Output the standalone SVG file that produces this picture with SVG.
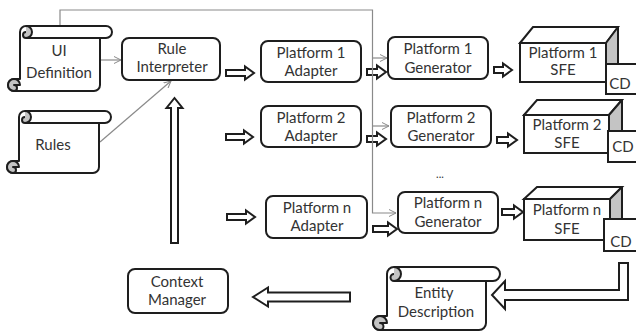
<svg xmlns="http://www.w3.org/2000/svg" width="636" height="332" viewBox="0 0 636 332">
  <defs>
    <marker id="thin-arrow" viewBox="0 0 8 8" refX="7" refY="4" markerWidth="8" markerHeight="8" markerUnits="userSpaceOnUse" orient="auto">
      <path d="M0,0.5 L7,4 L0,7.5" fill="none" stroke="#8a8a8a" stroke-width="1"/>
    </marker>
  </defs>
  <style>
    .box { fill: #fff; stroke: #1e1e1e; stroke-width: 2; }
    .scroll { fill: #fff; stroke: #1e1e1e; stroke-width: 2; stroke-linejoin: round; }
    .curl { fill: #c4c4c4; stroke: #1e1e1e; stroke-width: 2; stroke-linejoin: round; }
    .side { fill: #c4c4c4; stroke: #1e1e1e; stroke-width: 2; stroke-linejoin: round; }
    .block { fill: #fff; stroke: #1e1e1e; stroke-width: 2; stroke-linejoin: miter; }
    .thin { fill: none; stroke: #8a8a8a; stroke-width: 1.2; }
    text { font-family: Lato, "Open Sans", "Liberation Sans", sans-serif; font-size: 15px; fill: #333; text-anchor: middle; }
  </style>

  <rect width="636" height="332" fill="#fff"/>

  <!-- block arrows and thin arrows -->
  <g id="connectors">
    <polygon class="block" points="226,70 245,70 245,66.5 254,73 245,79.5 245,76 226,76"/>
    <polygon class="block" points="226,134 244,134 244,130.5 253,137 244,143.5 244,140 226,140"/>
    <polygon class="block" points="227,214 246,214 246,210.5 255,217 246,223.5 246,220 227,220"/>
    <polygon class="block" points="367,69 377,69 377,65.5 386,72 377,78.5 377,75 367,75"/>
    <polygon class="block" points="367,136 377,136 377,132.5 386,139 377,145.5 377,142 367,142"/>
    <polygon class="block" points="373,226 388,226 388,222.5 397,229 388,235.5 388,232 373,232"/>
    <polygon class="block" points="494,67 503,67 503,63.5 512,70 503,76.5 503,73 494,73"/>
    <polygon class="block" points="497,137 508,137 508,133.5 517,140 508,146.5 508,143 497,143"/>
    <polygon class="block" points="502,209 514,209 514,205.5 523,212 514,218.5 514,215 502,215"/>
    <polygon class="block" points="171,243 171,108 166.5,108 174.5,98 182.5,108 178,108 178,243"/>
    <polygon class="block" points="350,292.5 268,292.5 268,287.5 253,297 268,306.5 268,301.5 350,301.5"/>
    <polygon class="block" points="619,263 628,263 628,300 505,300 505,309 492,295 505,281 505,290 619,290"/>
    <path class="thin" d="M60,26 V10 H372.5 V213 H396" marker-end="url(#thin-arrow)"/>
    <path class="thin" d="M372.5,58 H387" marker-end="url(#thin-arrow)"/>
    <path class="thin" d="M372.5,126 H389" marker-end="url(#thin-arrow)"/>
    <path class="thin" d="M100,60 H121" marker-end="url(#thin-arrow)"/>
    <path class="thin" d="M100,142 L171,81" marker-end="url(#thin-arrow)"/>
  </g>

  <!-- scroll: UI Definition -->
  <g id="ui-definition" transform="translate(8,26)">
    <path class="scroll" d="M12,53 L12,6 A6,6 0 0 1 18,0 L98,0 A6,6 0 0 1 98,12 L92,12 L92,59 A6,6 0 0 1 86,65 L6,65 A6,6 0 0 1 6,53 Z"/>
    <path class="scroll" d="M18,12 L92,12"/>
    <path class="curl" d="M18,0 A6,6 0 0 1 18,12 A3,3 0 0 1 18,6"/>
    <path class="curl" d="M6,53 A6,6 0 0 0 6,65 A3,3 0 0 0 6,59 L12,59 A6,6 0 0 0 6,53 Z"/>
    <text x="51" y="30">UI</text>
    <text x="51" y="52">Definition</text>
  </g>

  <!-- scroll: Rules -->
  <g id="rules" transform="translate(7,111)">
    <path class="scroll" d="M12,50 L12,6 A6,6 0 0 1 18,0 L98,0 A6,6 0 0 1 98,12 L92,12 L92,56 A6,6 0 0 1 86,62 L6,62 A6,6 0 0 1 6,50 Z"/>
    <path class="scroll" d="M18,12 L92,12"/>
    <path class="curl" d="M18,0 A6,6 0 0 1 18,12 A3,3 0 0 1 18,6"/>
    <path class="curl" d="M6,50 A6,6 0 0 0 6,62 A3,3 0 0 0 6,56 L12,56 A6,6 0 0 0 6,50 Z"/>
    <text x="46" y="39">Rules</text>
  </g>

  <!-- scroll: Entity Description -->
  <g id="entity-description" transform="translate(373,267)">
    <path class="scroll" d="M14,49 L14,7 A7,7 0 0 1 21,0 L120,0 A7,7 0 0 1 120,14 L113,14 L113,56 A7,7 0 0 1 106,63 L7,63 A7,7 0 0 1 7,49 Z"/>
    <path class="scroll" d="M21,14 L113,14"/>
    <path class="curl" d="M21,0 A7,7 0 0 1 21,14 A3.5,3.5 0 0 1 21,7"/>
    <path class="curl" d="M7,49 A7,7 0 0 0 7,63 A3.5,3.5 0 0 0 7,56 L14,56 A7,7 0 0 0 7,49 Z"/>
    <text x="61" y="31">Entity</text>
    <text x="63" y="50">Description</text>
  </g>

  <g id="rule-interpreter">
    <rect class="box" x="122" y="38" width="98" height="42" rx="7"/>
    <text x="172" y="54">Rule</text>
    <text x="172" y="72">Interpreter</text>
  </g>

  <g id="context-manager">
    <rect class="box" x="128" y="269" width="100" height="44" rx="7"/>
    <text x="177" y="287">Context</text>
    <text x="177" y="305">Manager</text>
  </g>

  <g id="platform-1-adapter">
    <rect class="box" x="261" y="41" width="100" height="41" rx="7"/>
    <text x="311" y="58">Platform 1</text>
    <text x="311" y="76">Adapter</text>
  </g>
  <g id="platform-2-adapter">
    <rect class="box" x="261" y="106" width="100" height="41" rx="7"/>
    <text x="311" y="123">Platform 2</text>
    <text x="311" y="141">Adapter</text>
  </g>
  <g id="platform-n-adapter">
    <rect class="box" x="266" y="196" width="101" height="42" rx="7"/>
    <text x="317" y="213">Platform n</text>
    <text x="317" y="231">Adapter</text>
  </g>

  <g id="platform-1-generator">
    <rect class="box" x="388" y="37" width="100" height="42" rx="7"/>
    <text x="438" y="54">Platform 1</text>
    <text x="438" y="73">Generator</text>
  </g>
  <g id="platform-2-generator">
    <rect class="box" x="391" y="106" width="100" height="41" rx="7"/>
    <text x="441" y="123">Platform 2</text>
    <text x="441" y="141">Generator</text>
  </g>
  <g id="platform-n-generator">
    <rect class="box" x="398" y="192" width="100" height="41" rx="7"/>
    <text x="448" y="208">Platform n</text>
    <text x="448" y="227">Generator</text>
  </g>

  <text x="440" y="178" style="font-size:11px">...</text>

  <g id="platform-1-sfe">
    <polygon class="box" points="520,43 533,27 618,27 606,43"/>
    <polygon class="side" points="606,43 618,27 618,68 606,84"/>
    <rect class="box" x="520" y="43" width="86" height="39"/>
    <text x="563" y="58">Platform 1</text>
    <text x="563" y="75">SFE</text>
    <rect class="box" x="606" y="64" width="40" height="30"/>
    <text x="620" y="89">CD</text>
  </g>
  <g id="platform-2-sfe">
    <polygon class="box" points="524,115 537,100 622,100 609,115"/>
    <polygon class="side" points="609,115 622,100 622,138 609,153"/>
    <rect class="box" x="524" y="115" width="85" height="38"/>
    <text x="567" y="130">Platform 2</text>
    <text x="567" y="148">SFE</text>
    <rect class="box" x="608" y="131" width="40" height="31"/>
    <text x="623" y="152">CD</text>
  </g>
  <g id="platform-n-sfe">
    <polygon class="box" points="524,199 537,187 622,187 610,199"/>
    <polygon class="side" points="610,199 622,187 622,228 610,240"/>
    <rect class="box" x="524" y="199" width="86" height="41"/>
    <text x="567" y="215">Platform n</text>
    <text x="567" y="234">SFE</text>
    <rect class="box" x="604" y="219" width="40" height="32"/>
    <text x="621" y="247">CD</text>
  </g>
</svg>
